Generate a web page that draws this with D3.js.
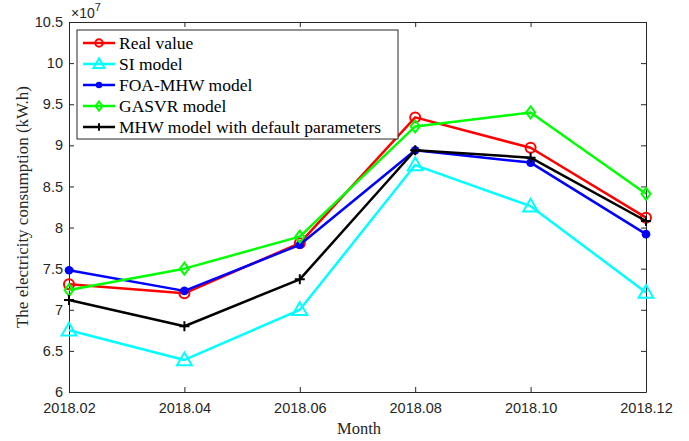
<!DOCTYPE html>
<html>
<head>
<meta charset="utf-8">
<script src="https://cdn.jsdelivr.net/npm/d3@7"></script>
<style>
  body { margin: 0; background: #fff; }
  svg { display: block; }
  .tick text { font-family: "Liberation Sans", Arial, sans-serif; font-size: 14.5px; fill: #262626; }
</style>
</head>
<body>
<svg id="chart" width="689" height="441"></svg>
<script>
// months along x
const months = ['2018.02', '2018.04', '2018.06', '2018.08', '2018.10', '2018.12'];
// values in units of 1e7 kW.h
const realValue = [7.31, 7.20, 7.81, 9.34, 8.97, 8.12];
const siModel = [6.75, 6.39, 7.00, 8.76, 8.26, 7.21];
const foaMhwModel = [7.48, 7.23, 7.79, 8.94, 8.79, 7.92];
const gasvrModel = [7.24, 7.50, 7.89, 9.23, 9.40, 8.41];
const mhwDefault = [7.12, 6.80, 7.37, 8.94, 8.85, 8.08];
const yTicks = [6, 6.5, 7, 7.5, 8, 8.5, 9, 9.5, 10, 10.5];

const series = [
  { name: 'Real value', values: realValue, color: '#ff0000', marker: 'circle' },
  { name: 'SI model', values: siModel, color: '#00ffff', marker: 'triangle' },
  { name: 'FOA-MHW model', values: foaMhwModel, color: '#0000ff', marker: 'dot' },
  { name: 'GASVR model', values: gasvrModel, color: '#00ff00', marker: 'diamond' },
  { name: 'MHW model with default parameters', values: mhwDefault, color: '#000000', marker: 'plus' }
];

const plotLeft = 69, plotRight = 646, plotTop = 22, plotBottom = 392;
const svg = d3.select('#chart');

const x = d3.scalePoint().domain(months).range([plotLeft, plotRight]);
const y = d3.scaleLinear().domain([6, 10.5]).range([plotBottom, plotTop]);

// axes (MATLAB style, ticks inward, box on)
const axColor = '#262626';
svg.append('g')
  .attr('transform', 'translate(0,' + plotBottom + ')')
  .call(d3.axisBottom(x).tickSizeInner(-5).tickSizeOuter(0).tickPadding(11))
  .call(g => g.select('.domain').attr('stroke', axColor))
  .call(g => g.selectAll('.tick line').attr('stroke', axColor));
svg.append('g')
  .attr('transform', 'translate(0,' + plotTop + ')')
  .call(d3.axisTop(x).tickSizeInner(-5).tickSizeOuter(0).tickFormat(''))
  .call(g => g.select('.domain').attr('stroke', axColor))
  .call(g => g.selectAll('.tick line').attr('stroke', axColor));
svg.append('g')
  .attr('transform', 'translate(' + plotLeft + ',0)')
  .call(d3.axisLeft(y).tickValues(yTicks).tickFormat(d3.format('~g')).tickSizeInner(-5).tickSizeOuter(0).tickPadding(6))
  .call(g => g.select('.domain').attr('stroke', axColor))
  .call(g => g.selectAll('.tick line').attr('stroke', axColor));
svg.append('g')
  .attr('transform', 'translate(' + plotRight + ',0)')
  .call(d3.axisRight(y).tickValues(yTicks).tickSizeInner(-5).tickSizeOuter(0).tickFormat(''))
  .call(g => g.select('.domain').attr('stroke', axColor))
  .call(g => g.selectAll('.tick line').attr('stroke', axColor));

// exponent label
const expo = svg.append('text')
  .attr('x', plotLeft + 2).attr('y', 18)
  .attr('font-family', '"Liberation Sans", Arial, sans-serif')
  .attr('font-size', 14).attr('fill', axColor);
expo.append('tspan').text('\u00d710');
expo.append('tspan').attr('dy', -7).attr('font-size', 11).text('7');

// axis titles
svg.append('text')
  .attr('x', 359).attr('y', 434)
  .attr('text-anchor', 'middle')
  .attr('font-family', '"Liberation Serif", "Times New Roman", serif')
  .attr('font-size', 16.5).attr('fill', axColor)
  .text('Month');
svg.append('text')
  .attr('transform', 'translate(28,207) rotate(-90)')
  .attr('text-anchor', 'middle')
  .attr('font-family', '"Liberation Serif", "Times New Roman", serif')
  .attr('font-size', 17).attr('fill', axColor)
  .text('The electricity consumption (kW.h)');

// k scales the marker (legend markers are drawn a bit smaller)
function drawMarker(g, type, color, cx, cy, k) {
  k = k || 1;
  if (type === 'circle') {
    g.append('circle').attr('cx', cx).attr('cy', cy).attr('r', 5 * k)
      .attr('fill', 'none').attr('stroke', color).attr('stroke-width', 2);
  } else if (type === 'triangle') {
    g.append('path')
      .attr('d', d3.symbol(d3.symbolTriangle, 95 * k * k)())
      .attr('transform', 'translate(' + cx + ',' + (cy + k) + ')')
      .attr('fill', 'none').attr('stroke', color).attr('stroke-width', 2);
  } else if (type === 'dot') {
    g.append('circle').attr('cx', cx).attr('cy', cy).attr('r', 4.3 * k)
      .attr('fill', color);
  } else if (type === 'diamond') {
    g.append('path')
      .attr('d', 'M0,-6L4.5,0L0,6L-4.5,0Z')
      .attr('transform', 'translate(' + cx + ',' + cy + ') scale(' + k + ')')
      .attr('fill', 'none').attr('stroke', color).attr('stroke-width', 2 / k);
  } else if (type === 'plus') {
    g.append('path')
      .attr('d', 'M-5,0H5M0,-5V5')
      .attr('transform', 'translate(' + cx + ',' + cy + ') scale(' + k + ')')
      .attr('stroke', color).attr('stroke-width', 2 / k);
  }
}

const line = d3.line()
  .x((d, i) => x(months[i]))
  .y(d => y(d));

series.forEach(function (s) {
  const g = svg.append('g');
  g.append('path')
    .datum(s.values)
    .attr('d', line)
    .attr('fill', 'none')
    .attr('stroke', s.color)
    .attr('stroke-width', 2.5)
    .attr('stroke-linejoin', 'round');
  s.values.forEach(function (v, i) {
    drawMarker(g, s.marker, s.color, x(months[i]), y(v));
  });
});

// legend
const lg = svg.append('g');
lg.append('rect')
  .attr('x', 77).attr('y', 30).attr('width', 321).attr('height', 109)
  .attr('fill', '#fff').attr('stroke', axColor).attr('stroke-width', 1);
series.forEach(function (s, i) {
  const ly = 43 + i * 21;
  lg.append('line')
    .attr('x1', 83).attr('x2', 115).attr('y1', ly).attr('y2', ly)
    .attr('stroke', s.color).attr('stroke-width', 2.5);
  drawMarker(lg, s.marker, s.color, 99, ly, 0.75);
  lg.append('text')
    .attr('x', 119).attr('y', ly + 5.5)
    .attr('font-family', '"Liberation Serif", "Times New Roman", serif')
    .attr('font-size', 17.5).attr('fill', '#000')
    .text(s.name);
});
</script>
</body>
</html>
